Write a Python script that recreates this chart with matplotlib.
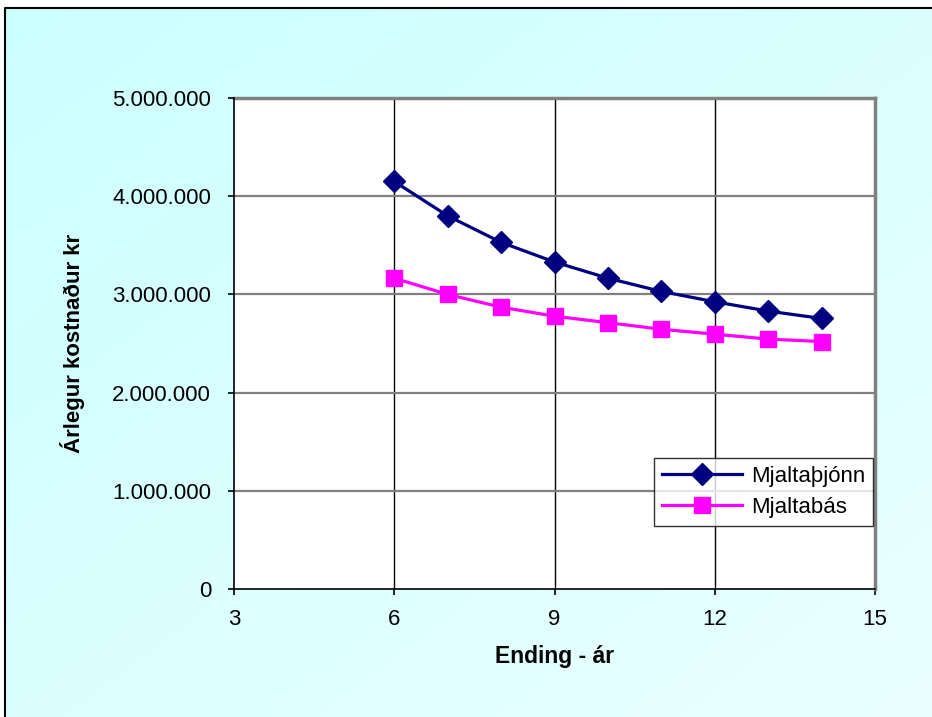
import numpy as np
import matplotlib
matplotlib.use("Agg")
import matplotlib.pyplot as plt
from matplotlib.lines import Line2D
from matplotlib.ticker import FuncFormatter

plt.rcParams['font.family'] = ['Liberation Sans', 'DejaVu Sans']

ending_ar = [6, 7, 8, 9, 10, 11, 12, 13, 14]
mjaltathjonn = [4150000, 3800000, 3530000, 3330000, 3165000, 3030000, 2925000, 2830000, 2755000]
mjaltabas = [3165000, 3000000, 2870000, 2778000, 2712000, 2645000, 2595000, 2545000, 2520000]
series_names = ["Mjaltaþjónn", "Mjaltabás"]
x_ticks = [3, 6, 9, 12, 15]
y_ticks = [0, 1000000, 2000000, 3000000, 4000000, 5000000]

W, H = 932, 717
fig = plt.figure(figsize=(W / 100, H / 100), dpi=100, facecolor="white")

# light cyan gradient backdrop, framed on the top and left edges
bg = fig.add_axes([5 / W, 0, 1 - 5 / W, 1 - 8 / H], zorder=-10)
gx = np.linspace(0, 1, 200)
gy = np.linspace(0, 1, 200)
GX, GY = np.meshgrid(gx, gy)
t = (GX + GY) / 2
c0 = np.array([204, 255, 255]) / 255
c1 = np.array([234, 255, 255]) / 255
img = c0[None, None, :] * (1 - t[..., None]) + c1[None, None, :] * t[..., None]
bg.imshow(img, aspect="auto", extent=[0, 1, 0, 1], origin="upper")
bg.set_xlim(0, 1)
bg.set_ylim(0, 1)
bg.axis("off")
bg.add_line(Line2D([0, 0, 1], [0, 1, 1], color="black", lw=1.5,
                   transform=bg.transAxes, clip_on=False))

ax = fig.add_axes([234 / W, 1 - 589 / H, (875 - 234) / W, (589 - 98) / H])
ax.set_facecolor("white")

ax.plot(ending_ar, mjaltathjonn, color="#000080", lw=2.3, marker="D", markersize=11,
        label=series_names[0], zorder=3, solid_joinstyle="round")
ax.plot(ending_ar, mjaltabas, color="#FF00FF", lw=2.3, marker="s", markersize=12,
        label=series_names[1], zorder=3, solid_joinstyle="round")

ax.set_xlim(3, 15)
ax.set_ylim(0, 5000000)
ax.set_xticks(x_ticks)
ax.set_yticks(y_ticks)
ax.yaxis.set_major_formatter(FuncFormatter(lambda v, p: f"{int(v):,}".replace(",", ".")))

for x in x_ticks[1:-1]:
    ax.axvline(x, color="black", lw=1.0, zorder=1)
for y in y_ticks[1:-1]:
    ax.axhline(y, color="#808080", lw=1.6, zorder=1)
ax.axhline(5000000, color="#808080", lw=2.5, zorder=1, clip_on=False)

ax.spines["top"].set_visible(False)
ax.spines["right"].set_color("#808080")
ax.spines["right"].set_linewidth(2.5)
ax.spines["left"].set_color("black")
ax.spines["bottom"].set_color("black")
ax.spines["left"].set_linewidth(1.2)
ax.spines["bottom"].set_linewidth(1.2)

ax.tick_params(axis="both", direction="out", length=4.5, width=1.2, colors="black",
               labelsize=16)
ax.tick_params(axis="x", pad=10)
ax.tick_params(axis="y", pad=12)

ax.set_xlabel("Ending - ár", fontsize=16.5, fontweight="bold")
ax.set_ylabel("Árlegur kostnaður kr", fontsize=16, fontweight="bold")
ax.xaxis.set_label_coords(0.5, -0.115)
ax.yaxis.set_label_coords(-0.232, 0.5)

leg = ax.legend(loc="lower right", bbox_to_anchor=(873 / W, 1 - 526 / H),
                bbox_transform=fig.transFigure, fontsize=16, frameon=True,
                fancybox=False, edgecolor="black", handlelength=3.6,
                borderpad=0.35, labelspacing=0.45, handletextpad=0.4,
                borderaxespad=0)
leg.get_frame().set_linewidth(1.0)

fig.savefig("out.png", dpi=100, facecolor=fig.get_facecolor())
